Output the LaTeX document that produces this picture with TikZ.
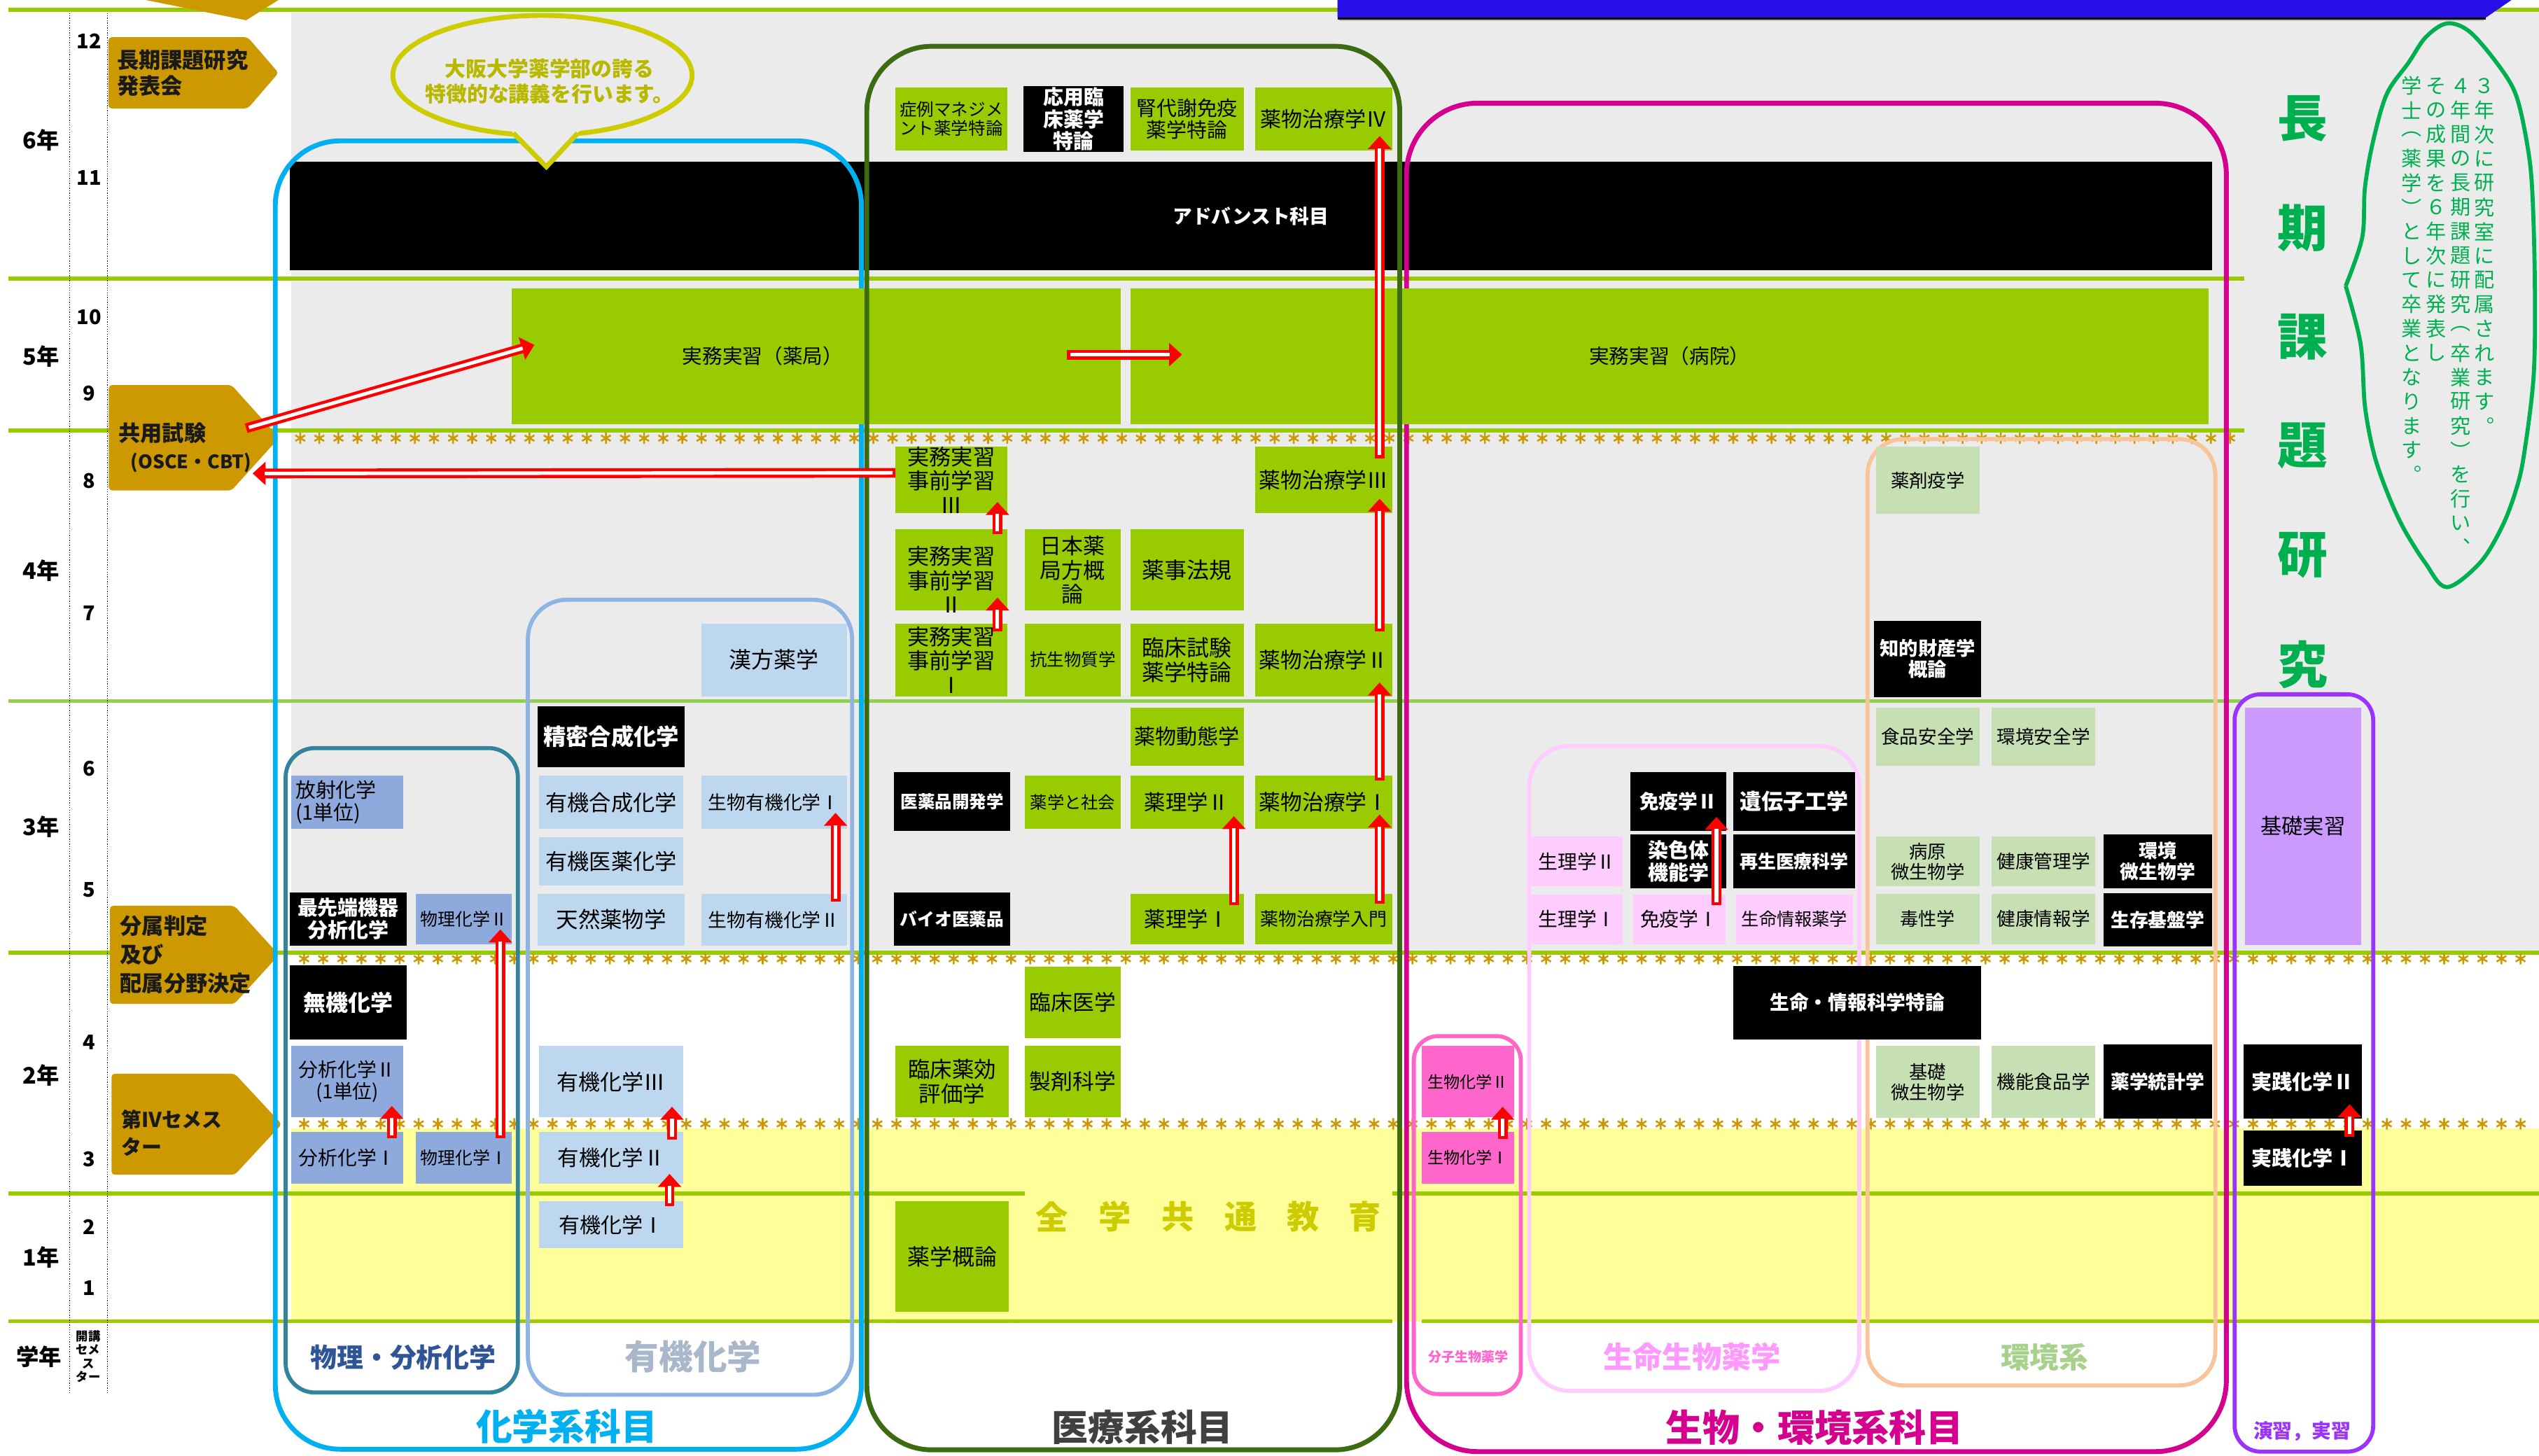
\documentclass[tikz,border=0pt]{standalone}
\usepackage{fontspec}
\setmainfont{Noto Sans CJK JP}
\usetikzlibrary{arrows.meta}

\definecolor{lgreen}{HTML}{99CC00}
\definecolor{lgreen2}{HTML}{92D050}
\definecolor{bggray}{HTML}{EBEBEB}
\definecolor{byellow}{HTML}{FFFF99}
\definecolor{gold}{HTML}{CC9900}
\definecolor{pentxt}{HTML}{1A1A1A}
\definecolor{mgreen}{HTML}{99CC00}
\definecolor{lblue}{HTML}{BDD7EE}
\definecolor{mblue}{HTML}{8EA9DB}
\definecolor{lpink}{HTML}{FFCCFF}
\definecolor{hpink}{HTML}{FF66CC}
\definecolor{pgreen}{HTML}{C6E0B4}
\definecolor{lpurple}{HTML}{CC99FF}
\definecolor{chemblue}{HTML}{00B0F0}
\definecolor{physteal}{HTML}{31849B}
\definecolor{orgblue}{HTML}{8EB4E3}
\definecolor{medgreen}{HTML}{3D6B12}
\definecolor{biomag}{HTML}{D6008F}
\definecolor{envpeach}{HTML}{F9C499}
\definecolor{pracpur}{HTML}{9933FF}
\definecolor{bubble}{HTML}{CCCC00}
\definecolor{bubtext}{HTML}{B8B800}
\definecolor{resgreen}{HTML}{00B050}
\definecolor{banner}{HTML}{2A10E8}
\definecolor{physlabel}{HTML}{2F5597}
\definecolor{orglabel}{HTML}{A9B7CB}
\definecolor{envlabel}{HTML}{A9D18E}
\definecolor{lifelabel}{HTML}{FF99FF}
\definecolor{medlabel}{HTML}{404040}
\definecolor{zentext}{HTML}{CCCC00}

\newcommand{\bxf}[1]{\fontsize{#1}{\fpeval{1.1*#1}}\selectfont}
\def\bxkser{\bfseries}
\newcommand{\bx}[9][0,0]{%
  \node[#7fill, minimum width=#5pt, minimum height=#6pt] (#2) at (#3,#4) {};
  \node[txtbase, #7text, font={\bxf{#8}\csname bx#7ser\endcsname}] (#2t) at ([shift={(#1)}]#2.center) {#9};}
\newcommand{\rarr}[2]{%
  \draw[red, line width=6pt, -{Triangle[length=8pt,width=14pt]}] #1 -- #2;
  \draw[white, line width=2.2pt, shorten <=1.8pt, shorten >=7.5pt] #1 -- #2;}

\tikzset{
  fillbase/.style={rectangle, anchor=north west, inner sep=0pt, outer sep=0pt, draw=none},
  gfill/.style={fillbase, fill=mgreen},
  lbfill/.style={fillbase, fill=lblue},
  mbfill/.style={fillbase, fill=mblue},
  kfill/.style={fillbase, fill=black},
  pkfill/.style={fillbase, fill=lpink},
  hpfill/.style={fillbase, fill=hpink},
  pgfill/.style={fillbase, fill=pgreen},
  pufill/.style={fillbase, fill=lpurple},
  txtbase/.style={inner sep=0pt, outer sep=0pt, align=center, text=black},
  gtext/.style={}, lbtext/.style={}, mbtext/.style={}, ktext/.style={text=white},
  pktext/.style={}, hptext/.style={}, pgtext/.style={}, putext/.style={},
  hline/.style={draw=lgreen, line width=2.5pt},
  astline/.style={draw=gold, line width=1.1pt},
  yr/.style={inner sep=0pt, font=\bxf{14}\bfseries},
  sem/.style={inner sep=0pt, font=\bxf{12.5}\bfseries},
  pent/.style={inner sep=0pt, align=left, anchor=west, text=pentxt, font=\bxf{13.5}\bfseries},
  glabel/.style={inner sep=0pt},
  vtxt/.style={inner sep=0pt, text=resgreen, font=\bxf{12.6}},
  bigv/.style={inner sep=0pt, text=resgreen, font=\bxf{31}\bfseries},
  zen/.style={inner sep=0pt, text=zentext, font=\bxf{20}\bfseries},
}

\begin{document}
\begin{tikzpicture}[x=1pt,y=-1pt]
\useasboundingbox (0,0) rectangle (1568,899);
\fill[white] (0,0) rectangle (1568,899);
\fill[bggray] (180,7) rectangle (1568,588);
\fill[byellow] (180,697) rectangle (1568,816);

% horizontal lines
\draw[hline] (5,6) -- (826,6);
\draw[hline] (1541,6) -- (1568,6);
\draw[hline] (5,172) -- (1386,172);
\draw[hline] (5,266) -- (1386,266);
\draw[hline, draw=lgreen2] (5,433) -- (1386,433);
\draw[hline] (5,588.5) -- (1568,588.5);
\draw[hline] (5,737) -- (633,737);
\draw[hline] (860,737) -- (1568,737);
\draw[hline] (5,816) -- (860,816);
\draw[hline] (878,816) -- (1568,816);

% asterisk rows
\draw[astline] \foreach \x in {185.4,197.2,...,1386} {(\x,267.1)--(\x,274.1) (\x-3,268.85)--(\x+3,272.35) (\x-3,272.35)--(\x+3,268.85)};
\draw[astline] \foreach \x in {187.8,199.6,...,1566} {(\x,588.6)--(\x,595.6) (\x-3,590.35)--(\x+3,593.85) (\x-3,593.85)--(\x+3,590.35)};
\draw[astline] \foreach \x in {187.8,199.6,...,1566} {(\x,690.6)--(\x,697.6) (\x-3,692.35)--(\x+3,695.85) (\x-3,695.85)--(\x+3,692.35)};

% banner (cut off at top)
\fill[banner] (826,0) -- (1551,0) -- (1535,11) -- (826,11) -- cycle;
\draw[black, line width=1pt] (826,11.5) -- (1535,11.5);
\draw[black!25, line width=1pt] (827,12.5) -- (1534,12.5);

% left column
\draw[black, line width=0.5pt, dash pattern=on 0.6pt off 0.9pt] (43,8) -- (43,860);
\draw[black, line width=0.5pt, dash pattern=on 0.6pt off 0.9pt] (66.5,8) -- (66.5,860);
\node[yr] (y6) at (25.5,86.5) {6年};
\node[yr] (y5) at (25.5,220) {5年};
\node[yr] (y4) at (25.5,352.6) {4年};
\node[yr] (y3) at (25.5,510.4) {3年};
\node[yr] (y2) at (25.5,664) {2年};
\node[yr] (y1) at (25.5,776.5) {1年};
\node[yr] (yg) at (24,838) {学年};
\node[sem] (s12) at (55,25.5) {12};
\node[sem] (s11) at (55,110) {11};
\node[sem] (s10) at (55,196) {10};
\node[sem] (s9) at (55,243) {9};
\node[sem] (s8) at (55,297) {8};
\node[sem] (s7) at (55,378.5) {7};
\node[sem] (s6) at (55,474.5) {6};
\node[sem] (s5) at (55,549.5) {5};
\node[sem] (s4) at (55,643.7) {4};
\node[sem] (s3) at (55,715.8) {3};
\node[sem] (s2) at (55,757.7) {2};
\node[sem] (s1) at (55,795.4) {1};
\node[inner sep=0pt, align=center, font=\fontsize{7.5}{8.3}\selectfont\bfseries] (kaiko) at (54.5,837.7) {開講\\セメ\\ス\\ター};

% gold pentagons
\fill[gold] (90,0) -- (172,0) -- (152,12.5) -- cycle;
\fill[gold, rounded corners=2pt] (67,23) -- (153,23) -- (172,45) -- (153,67) -- (67,67) -- cycle;
\fill[gold, rounded corners=2pt] (67.2,237.8) -- (143,237.8) -- (172.3,270.4) -- (143,302.9) -- (67.2,302.9) -- cycle;
\fill[gold, rounded corners=2pt] (67.9,559.4) -- (144.7,559.4) -- (172.3,589.7) -- (144.7,620) -- (67.9,620) -- cycle;
\fill[gold, rounded corners=2pt] (68.9,663.1) -- (145,663.1) -- (174,694.3) -- (145,725.5) -- (68.9,725.5) -- cycle;
\node[pent] (p1t) at (72,45) {長期課題研究\\[1.5pt]発表会};
\node[pent] (p2t) at (73,267.3) {共用試験};
\node[inner sep=0pt, text=pentxt, font=\bxf{11.5}\bfseries] (p2b) at (118,285.6) {(OSCE・CBT)};
\node[pent] (p3t) at (74,589.6) {分属判定\\[3pt]及び\\[3pt]配属分野決定};
\node[pent, font=\bxf{12.5}\bfseries] (p4t) at (74.8,699.6) {第Ⅳセメス\\[3pt]ター};
\coordinate (kyA) at (152,264.5);
\coordinate (kyB) at (156,292.4);

% advanced (under outlines)
\bx{adv}{179}{100}{1187}{67}{k}{12}{アドバンスト科目}

% group outlines
\draw[chemblue, line width=3pt, rounded corners=40pt] (170,87) rectangle (532,895);
\draw[physteal, line width=2.5pt, rounded corners=18pt] (176.4,462) rectangle (319.8,860);
\draw[orgblue, line width=2.5pt, rounded corners=24pt] (326,370.4) rectangle (526.2,861.4);
\draw[biomag, line width=3pt, rounded corners=44pt] (868.6,63.7) rectangle (1374.9,896.5);
\draw[hpink, line width=2.5pt, rounded corners=15pt] (873.1,639.9) rectangle (939.2,861);
\draw[lpink, line width=2.5pt, rounded corners=25pt] (944.4,460.6) rectangle (1148.2,859);
\draw[envpeach, line width=2.5pt, rounded corners=22pt] (1153.3,271.2) rectangle (1368.1,855.6);
\draw[pracpur, line width=2.5pt, rounded corners=16pt] (1380,428.8) rectangle (1465.6,896.5);

% chemistry boxes
\bx{kanpo}{433}{385}{90}{45}{lb}{13.8}{漢方薬学}
\bx{seimitsu}{332}{436}{91}{38}{k}{14}{精密合成化学}
\bx{yukigosei}{333}{479}{89}{33}{lb}{13.5}{有機合成化学}
\bx{borg1}{433}{479}{90}{33}{lb}{11.6}{生物有機化学Ⅰ}
\bx{yukiiyaku}{333}{517}{89}{30}{lb}{13.5}{有機医薬化学}
\bx{tennen}{332}{552}{91}{32}{lb}{13.6}{天然薬物学}
\bx{borg2}{433}{552}{90}{32}{lb}{11.6}{生物有機化学Ⅱ}
\bx{hosha}{180}{479}{69}{33}{mb}{12.5}{}
\node[txtbase, align=left, anchor=west, font=\bxf{12.5}] (hoshal) at (182.5,495.5) {放射化学\\(1単位)};
\bx{saisentan}{179}{551}{72}{33}{k}{12.5}{最先端機器\\分析化学}
\bx{pc2}{257}{552}{59}{31}{mb}{10.8}{物理化学Ⅱ}
\bx{muki}{179}{596}{72}{46}{k}{13.8}{無機化学}
\bx{an2}{180}{646}{69}{44}{mb}{12}{分析化学Ⅱ\\(1単位)}
\bx{an1}{180}{699}{69}{32}{mb}{12}{分析化学Ⅰ}
\bx{pc1}{257}{699}{59}{32}{mb}{10.8}{物理化学Ⅰ}
\bx{org3}{333}{646}{89}{44}{lb}{13.4}{有機化学Ⅲ}
\bx{org2}{333}{699}{89}{32}{lb}{13.2}{有機化学Ⅱ}
\bx{org1}{333}{742}{89}{29}{lb}{13}{有機化学Ⅰ}

% medical boxes
\bx{shorei}{553}{54}{69}{39}{g}{10.6}{症例マネジメ\\ント薬学特論}
\bx{oyo}{632}{53}{62}{41}{k}{12.5}{応用臨\\床薬学\\特論}
\bx{jin}{698}{54}{70}{39}{g}{12.5}{腎代謝免疫\\薬学特論}
\bx{drug4}{775}{54}{85}{39}{g}{13}{薬物治療学Ⅳ}
\bx{yak}{316}{178}{376}{84}{g}{12}{}
\node[txtbase, font=\bxf{12.4}] (yakl) at (471,220) {実務実習（薬局）};
\bx{byo}{698}{178}{666}{84}{g}{12.4}{実務実習（病院）}
\bx{pre3}{553}{276}{69}{41}{g}{13.5}{実務実習\\事前学習\\Ⅲ}
\bx{drug3}{775}{276}{85}{41}{g}{13.3}{薬物治療学Ⅲ}
\bx[0,6]{pre2}{553}{327}{69}{50}{g}{13.5}{実務実習\\事前学習\\Ⅱ}
\bx{nihon}{633}{327}{59}{50}{g}{13.4}{日本薬\\局方概\\論}
\bx{yakuji}{698}{327}{70}{50}{g}{13.8}{薬事法規}
\bx{pre1}{553}{385}{69}{45}{g}{13.5}{実務実習\\事前学習\\Ⅰ}
\bx{kosei}{633}{385}{59}{45}{g}{10.6}{抗生物質学}
\bx{rinsho}{698}{385}{70}{45}{g}{13.8}{臨床試験\\薬学特論}
\bx{drug2}{775}{385}{85}{45}{g}{13.3}{薬物治療学Ⅱ}
\bx{dotai}{698}{437}{70}{36}{g}{13}{薬物動態学}
\bx{iyaku}{552}{477}{72}{36}{k}{10.6}{医薬品開発学}
\bx{shakai}{633}{479}{59}{33}{g}{10.5}{薬学と社会}
\bx{yakuri2}{698}{479}{70}{33}{g}{13.1}{薬理学Ⅱ}
\bx{drug1}{775}{479}{85}{33}{g}{13.3}{薬物治療学Ⅰ}
\bx{biop}{552}{551}{72}{33}{k}{10.7}{バイオ医薬品}
\bx{yakuri1}{698}{552}{70}{31}{g}{13.1}{薬理学Ⅰ}
\bx{drugin}{775}{552}{85}{31}{g}{11.2}{薬物治療学入門}
\bx{rinigaku}{633}{597}{59}{44}{g}{13.3}{臨床医学}
\bx{yakko}{553}{646}{70}{44}{g}{13.6}{臨床薬効\\評価学}
\bx{seizai}{633}{646}{59}{44}{g}{13.3}{製剤科学}
\bx{gairon}{553}{742}{70}{68}{g}{13.8}{薬学概論}

% bio / environment boxes
\bx{sei2}{878}{646}{57}{44}{hp}{10}{生物化学Ⅱ}
\bx{sei1}{878}{699}{57}{32}{hp}{10}{生物化学Ⅰ}
\bx{men2}{1007}{477}{59}{36}{k}{12}{免疫学Ⅱ}
\bx{iden}{1070.5}{477}{75}{36}{k}{13.4}{遺伝子工学}
\bx{senshoku}{1007}{515.5}{59}{33}{k}{12.5}{染色体\\機能学}
\bx{saisei}{1070.5}{515.5}{75}{33}{k}{11.2}{再生医療科学}
\bx{seiri2}{946}{516.5}{56}{31}{pk}{12}{生理学Ⅱ}
\bx{seiri1}{946}{552.5}{56}{30.5}{pk}{12}{生理学Ⅰ}
\bx{men1}{1008.5}{552.5}{57}{30.5}{pk}{12}{免疫学Ⅰ}
\bx{seimei}{1072}{552.5}{72.5}{30.5}{pk}{10.9}{生命情報薬学}
\bx{tokuron}{1070.5}{596.5}{153}{45.5}{k}{12}{生命・情報科学特論}
\bx{ekigaku}{1158.5}{276}{64}{41.5}{pg}{11.4}{薬剤疫学}
\bx{chiteki}{1157.5}{383.5}{66}{47}{k}{11.8}{知的財産学\\概論}
\bx{shokuhin}{1158.5}{437}{64}{36}{pg}{11.5}{食品安全学}
\bx{kankyoan}{1230}{437}{64}{36}{pg}{11.5}{環境安全学}
\bx{byogen}{1158.5}{516.5}{64}{31}{pg}{11.4}{病原\\微生物学}
\bx{kenkokan}{1230}{516.5}{64}{31}{pg}{11.5}{健康管理学}
\bx{kanbi}{1299}{515.5}{67}{33}{k}{11.6}{環境\\微生物学}
\bx{dokusei}{1158.5}{552}{64}{31}{pg}{11.3}{毒性学}
\bx{kenkojo}{1230}{552}{64}{31}{pg}{11.5}{健康情報学}
\bx{seizon}{1299}{551.5}{67}{33}{k}{11.6}{生存基盤学}
\bx{kisobi}{1158.5}{646}{64}{44.5}{pg}{11.4}{基礎\\微生物学}
\bx{kinou}{1230}{646}{64}{44.5}{pg}{11.5}{機能食品学}
\bx{tokei}{1299}{645}{67}{46}{k}{11.6}{薬学統計学}
\bx{kiso}{1386.5}{437}{71.5}{146.5}{pu}{13.1}{基礎実習}
\bx{jis2}{1385.5}{645}{73}{46}{k}{12.6}{実践化学Ⅱ}
\bx{jis1}{1385.5}{698}{73}{34.5}{k}{12.6}{実践化学Ⅰ}

% medical outline on top
\draw[medgreen, line width=3pt, rounded corners=40pt] (535.3,28.6) rectangle (864.4,895.4);

% 全学共通教育
\foreach \c/\xx [count=\i] in {全/649.7,学/688.7,共/727.3,通/766.2,教/804.8,育/842.7}
  \node[zen] (zen\i) at (\xx,751.3) {\c};

% group labels
\node[glabel, text=chemblue, font=\bxf{22.4}\bfseries] (lchem) at (350,880.8) {化学系科目};
\node[glabel, text=physlabel, font=\bxf{16.4}\bfseries] (lphys) at (249,838.4) {物理・分析化学};
\node[glabel, text=orglabel, font=\bxf{21}\bfseries] (lorg) at (428,838) {有機化学};
\node[glabel, text=medlabel, font=\bxf{22.4}\bfseries] (lmed) at (705.6,881.4) {医療系科目};
\node[glabel, text=biomag, font=\bxf{23}\bfseries] (lbio) at (1120.7,881.5) {生物・環境系科目};
\node[glabel, text=hpink, font=\bxf{8.2}\bfseries] (lmol) at (906.8,838) {分子生物薬学};
\node[glabel, text=lifelabel, font=\bxf{18.3}\bfseries] (llife) at (1045,838) {生命生物薬学};
\node[glabel, text=envlabel, font=\bxf{18}\bfseries] (lenv) at (1262.6,838.4) {環境系};
\node[glabel, text=pracpur, font=\bxf{12}\bfseries] (lprac) at (1421.6,884) {演習，実習};

% speech bubble
\fill[bggray] (335,46.5) ellipse [x radius=92.4, y radius=37];
\draw[bubble, line width=3pt] (335,46.5) ellipse [x radius=92.4, y radius=37];
\fill[bggray] (312.9,78) -- (337.4,103) -- (360.6,78) -- cycle;
\draw[bubble, line width=3pt, line join=miter] (317,82.2) -- (337.4,103) -- (356.8,82.2);
\node[inner sep=0pt, text=bubtext, font=\bxf{12.9}\bfseries] (bub1) at (339.4,42.5) {大阪大学薬学部の誇る};
\node[inner sep=0pt, text=bubtext, font=\bxf{12.9}\bfseries] (bub2) at (339.4,57.9) {特徴的な講義を行います。};

% long-term research
\foreach \c [count=\i from 0] in {長,期,課,題,研,究}
  \node[bigv] (bv\i) at (1422,73.3+67.4*\i) {\c};
\draw[resgreen, line width=2.5pt, line join=miter] plot[smooth, tension=0.55] coordinates {(1448.6,176.6) (1458.8,146.7) (1460.5,115.8) (1465.6,86.9) (1474,58) (1487.5,38.6) (1498,23) (1511,14.5) (1524.8,19.3) (1541.7,38.6) (1553.5,58) (1560.3,86.9) (1563.7,115.8) (1565.4,173.7) (1564.7,231.6) (1558.6,281.5) (1553.5,303.5) (1545,325.6) (1531.5,347.6) (1511,362.6) (1497.7,347.6) (1484,325.6) (1474,303.5) (1466,280) (1460.5,250.9) (1457.8,212.3) (1448.6,176.6)};
\foreach \c [count=\i from 0] in {３,年,次,に,研,究,室,に,配,属,さ,れ,ま,す,︒}
  \node[vtxt] (va\i) at (1534.3,53+15*\i) {\c};
\foreach \c [count=\i from 0] in {４,年,間,の,長,期,課,題,研,究,︵,卒,業,研,究,︶,を,行,い,︑}
  \node[vtxt] (vb\i) at (1519.7,53+15*\i) {\c};
\foreach \c [count=\i from 0] in {そ,の,成,果,を,６,年,次,に,発,表,し}
  \node[vtxt] (vc\i) at (1504.5,53+15*\i) {\c};
\foreach \c [count=\i from 0] in {学,士,︵,薬,学,︶,と,し,て,卒,業,と,な,り,ま,す,︒}
  \node[vtxt] (vd\i) at (1489.2,53+15*\i) {\c};

% red arrows
\rarr{(kyA)}{([shift={(14,35)}]yak.north west)}
\rarr{([shift={(0,16)}]pre3.north west)}{(kyB)}
\rarr{([shift={(-33,41)}]yak.north east)}{([shift={(32,41)}]byo.north west)}
\rarr{([shift={(-8,7)}]drug3.north east)}{([shift={(-8,30)}]drug4.north east)}
\rarr{([shift={(-8,5)}]drug2.north east)}{([shift={(-8,32)}]drug3.north east)}
\rarr{([shift={(-8,3)}]drug1.north east)}{([shift={(-8,36.5)}]drug2.north east)}
\rarr{([shift={(-8,6)}]drugin.north east)}{([shift={(-8,24)}]drug1.north east)}
\rarr{([shift={(-6,7)}]yakuri1.north east)}{([shift={(-6,25)}]yakuri2.north east)}
\rarr{([shift={(-6,5)}]pre1.north east)}{([shift={(-6,42)}]pre2.north east)}
\rarr{([shift={(-6,3)}]pre2.north east)}{([shift={(-6,34)}]pre3.north east)}
\rarr{([shift={(-7,4)}]pc1.north east)}{([shift={(-7,22)}]pc2.north east)}
\rarr{([shift={(-7,4)}]an1.north east)}{([shift={(-7,37)}]an2.north east)}
\rarr{([shift={(-7,5)}]org2.north east)}{([shift={(-7,37.5)}]org3.north east)}
\rarr{([shift={(-8.5,3)}]org1.north east)}{([shift={(-8.5,26)}]org2.north east)}
\rarr{([shift={(-7,5)}]borg2.north east)}{([shift={(-7,23)}]borg1.north east)}
\rarr{([shift={(-5.5,6.5)}]men1.north east)}{([shift={(-6,27.5)}]men2.north east)}
\rarr{([shift={(-7,4.3)}]sei1.north east)}{([shift={(-7,37.5)}]sei2.north east)}
\rarr{([shift={(-7.5,4)}]jis1.north east)}{([shift={(-7.5,37)}]jis2.north east)}
\end{tikzpicture}
\end{document}
